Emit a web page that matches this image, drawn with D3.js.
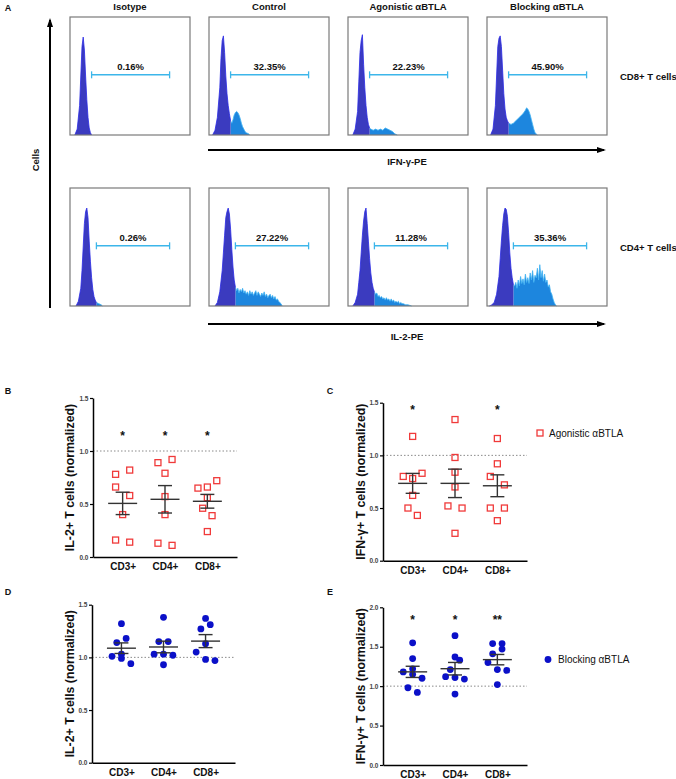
<!DOCTYPE html>
<html><head><meta charset="utf-8">
<script src="https://cdn.jsdelivr.net/npm/d3@7"></script>
<style>body{margin:0;background:#fff}svg{display:block;font-family:"Liberation Sans",Arial,sans-serif}</style>
</head><body>
<svg id="c" width="676" height="779"></svg>
<script>
// ---------------- DATA ----------------
const columns = ["Isotype", "Control", "Agonistic \u03b1BTLA", "Blocking \u03b1BTLA"];
const rowLabels = ["CD8+ T cells", "CD4+ T cells"];
const markerLabels = ["IFN-\u03b3-PE", "IL-2-PE"];
const gatePctCD8 = ["0.16%", "32.35%", "22.23%", "45.90%"];
const gatePctCD4 = ["0.26%", "27.22%", "11.28%", "35.36%"];
const gateRangeCD8 = [18, 83];
const gateRangeCD4 = [22, 83];

// histograms: [fluorescence (0-100), relative count (0-100)]
const histCD8Isotype = [[4,0],[6,5],[8,25],[9,50],[10,75],[11,83],[12,72],[13,50],[14,30],[15,15],[16,6],[17,2],[18,0]];
const histCD8Control = [[3,0],[5,4],[7,15],[9,40],[10,65],[11,80],[12,84],[13,70],[14,50],[15,35],[16,25],[17,18],[18,12],[19,10],[20,13],[21,17],[22,19],[23,20],[24,19],[25,17],[26,14],[27,10],[28,7],[29,5],[30,3],[31,2],[33,1],[34,0]];
const histCD8Agonistic = [[4,0],[6,5],[8,20],[9,45],[10,70],[11,80],[12,85],[13,60],[14,40],[15,25],[16,15],[17,9],[18,6],[19,5],[21,4],[23,5],[25,4],[27,5],[29,4],[31,6],[33,5],[35,4],[37,3],[39,1],[41,0]];
const histCD8Blocking = [[3,0],[5,5],[7,25],[8,50],[9,75],[10,82],[11,84],[12,75],[13,55],[14,35],[15,22],[16,15],[17,12],[18,10],[20,9],[22,10],[24,12],[26,14],[28,16],[30,18],[32,21],[33,23],[34,22],[35,20],[36,17],[37,13],[38,9],[39,5],[40,2],[42,0]];
const histCD4Isotype = [[5,0],[7,4],[9,15],[10,30],[11,50],[12,70],[13,80],[14,83],[15,75],[16,55],[17,38],[18,24],[19,14],[20,8],[21,5],[22,3],[24,2],[26,1],[27,0]];
const histCD4Control = [[5,0],[7,3],[9,12],[11,30],[12,45],[13,60],[14,75],[15,80],[16,83],[17,78],[18,65],[19,48],[20,33],[21,22],[22,16],[23,13],[24,15],[25,11],[26,14],[27,12],[28,15],[29,11],[30,13],[31,10],[32,12],[33,9],[34,13],[35,10],[36,12],[37,9],[38,11],[39,13],[40,9],[41,12],[42,10],[43,8],[44,11],[45,9],[46,12],[47,8],[48,10],[49,7],[50,9],[51,10],[52,7],[53,9],[54,6],[55,8],[56,5],[57,6],[58,4],[59,3],[60,2],[61,0]];
const histCD4Agonistic = [[4,0],[6,3],[8,10],[9,20],[10,30],[11,45],[12,60],[13,72],[14,80],[15,83],[16,70],[17,55],[18,40],[19,28],[20,20],[21,15],[22,12],[23,10],[24,11],[25,8],[26,9],[27,7],[28,8],[29,6],[30,7],[31,5],[32,7],[33,5],[34,6],[35,4],[36,6],[37,4],[38,5],[39,3],[40,4],[41,3],[42,4],[43,2],[44,3],[45,2],[46,2],[48,1],[50,1],[53,0]];
const histCD4Blocking = [[2,0],[4,1],[6,3],[8,10],[10,25],[11,40],[12,55],[13,68],[14,78],[15,83],[16,82],[17,76],[18,62],[19,45],[20,32],[21,24],[22,18],[23,17],[24,20],[25,15],[26,22],[27,17],[28,25],[29,19],[30,23],[31,18],[32,27],[33,20],[34,24],[35,19],[36,28],[37,22],[38,30],[39,20],[40,26],[41,24],[42,32],[43,22],[44,35],[45,24],[46,30],[47,21],[48,27],[49,20],[50,22],[51,16],[52,18],[53,12],[54,10],[55,6],[56,3],[57,1],[58,0]];

const categories = ["CD3+", "CD4+", "CD8+"];
// B: IL-2+ (agonistic)
const il2AgoCD3 = [0.82,0.78,0.66,0.58,0.40,0.16,0.14];
const il2AgoCD4 = [0.92,0.89,0.79,0.57,0.40,0.13,0.11];
const il2AgoCD8 = [0.72,0.66,0.65,0.56,0.46,0.39,0.24];
const il2AgoSlot3 = [1.5,-1.5,-1.5,1.5,0,-1.5,1.5];
const il2AgoSlot4 = [1.5,-1.5,0,0,0,-1.5,1.5];
const il2AgoSlot8 = [2,0,-2,0,-1,1,0];
// C: IFN-g+ (agonistic)
const ifnAgoCD3 = [1.18,0.83,0.80,0.78,0.62,0.50,0.43];
const ifnAgoCD4 = [1.34,0.98,0.84,0.70,0.52,0.50,0.26];
const ifnAgoCD8 = [1.16,0.92,0.80,0.72,0.50,0.50,0.38];
const ifnAgoSlot3 = [0,2,-2,0,0,-1,1];
const ifnAgoSlot4 = [0,0,0,0,-1.5,1.5,0];
const ifnAgoSlot8 = [0,0,-1.5,1.5,-1.5,1.5,0];
// D: IL-2+ (blocking)
const il2BlkCD3 = [1.32,1.18,1.14,1.03,1.01,0.99,0.94];
const il2BlkCD4 = [1.38,1.15,1.15,1.03,1.03,1.02,0.93];
const il2BlkCD8 = [1.37,1.31,1.27,1.13,1.05,0.98,0.97];
const il2BlkSlot3 = [0,1,-1,0,-2,0,2];
const il2BlkSlot4 = [0,1,-1,-2,0,2,0];
const il2BlkSlot8 = [0,1,-1,0,-2,0,2];
// E: IFN-g+ (blocking)
const ifnBlkCD3 = [1.55,1.35,1.22,1.18,1.15,1.10,0.98,0.92];
const ifnBlkCD4 = [1.64,1.37,1.33,1.21,1.12,1.11,1.09,0.90];
const ifnBlkCD8 = [1.54,1.54,1.47,1.41,1.30,1.21,1.20,1.02];
const ifnBlkSlot3 = [0,0,0,-2,0,2,-1,1];
const ifnBlkSlot4 = [0,0,1,-1,-2,0,2,0];
const ifnBlkSlot8 = [-1,1,1,-1,-2,0,2,0];

const sigB = ["*","*","*"];
const sigC = ["*","","*"];
const sigD = ["","",""];
const sigE = ["*","*","**"];
const ticks15 = [0, 0.5, 1.0, 1.5];
const ticks20 = [0, 0.5, 1.0, 1.5, 2.0];
const legendAgo = "Agonistic \u03b1BTLA";
const legendBlk = "Blocking \u03b1BTLA";

// ---------------- DRAW ----------------
const svg = d3.select("#c");
const DARK = "#3b3bbf", DARK_EDGE = "#2a2ae6", LIGHT = "#1d86de", LIGHT_EDGE = "#3fb2f2", GATE = "#3cb6ea";

function label(x, y, t, opt = {}) {
  return svg.append("text").attr("x", x).attr("y", y).text(t)
    .attr("text-anchor", opt.anchor || "middle")
    .attr("dominant-baseline", "central")
    .attr("font-size", opt.size || 9.5)
    .attr("font-weight", opt.weight || 700)
    .attr("fill", opt.fill || "#111")
    .attr("transform", opt.rotate ? `rotate(-90,${x},${y})` : null);
}

// Panel letters
label(8, 8, "A", {size: 9});
label(8, 391, "B", {size: 9});
label(330, 391, "C", {size: 9});
label(8, 592, "D", {size: 9});
label(330, 592, "E", {size: 9});

// Panel A
const colX = [70, 209, 348, 487], boxW = 120, rowY = [17, 188], boxH = 118;
const histRows = [
  [histCD8Isotype, histCD8Control, histCD8Agonistic, histCD8Blocking],
  [histCD4Isotype, histCD4Control, histCD4Agonistic, histCD4Blocking]
];
const pctRows = [gatePctCD8, gatePctCD4];
const gateRows = [gateRangeCD8, gateRangeCD4];

columns.forEach((c, i) => label(colX[i] + boxW / 2, 6, c));

function interpAt(pts, gx) {
  for (let i = 0; i < pts.length - 1; i++) {
    const a = pts[i], b = pts[i + 1];
    if (a[0] <= gx && b[0] >= gx) return a[1] + (b[1] - a[1]) * (gx - a[0]) / (b[0] - a[0] || 1);
  }
  return 0;
}

histRows.forEach((row, r) => {
  row.forEach((pts, c) => {
    const g = svg.append("g");
    const x = d3.scaleLinear().domain([0, 100]).range([colX[c], colX[c] + boxW]);
    const y = d3.scaleLinear().domain([0, 100]).range([rowY[r] + boxH, rowY[r]]);
    const gate = gateRows[r];
    const gv = interpAt(pts, gate[0]);
    const left = pts.filter(p => p[0] < gate[0]).concat([[gate[0], gv]]);
    const right = [[gate[0], gv]].concat(pts.filter(p => p[0] > gate[0]));
    const area = d3.area().x(d => x(d[0])).y0(y(0)).y1(d => y(d[1]));
    const line = d3.line().x(d => x(d[0])).y(d => y(d[1]));
    if (right.length > 1 && pts[pts.length - 1][0] > gate[0]) {
      g.append("path").attr("d", area(right)).attr("fill", LIGHT);
      g.append("path").attr("d", line(right)).attr("fill", "none").attr("stroke", LIGHT_EDGE).attr("stroke-width", 0.8);
    }
    g.append("path").attr("d", area(left)).attr("fill", DARK);
    g.append("path").attr("d", line(left)).attr("fill", "none").attr("stroke", DARK_EDGE).attr("stroke-width", 0.8);
    g.append("rect").attr("x", colX[c]).attr("y", rowY[r]).attr("width", boxW).attr("height", boxH)
      .attr("fill", "none").attr("stroke", "#7a7a7a").attr("stroke-width", 1.2);
    const gy = y(51);
    g.append("line").attr("x1", x(gate[0])).attr("x2", x(gate[1])).attr("y1", gy).attr("y2", gy)
      .attr("stroke", GATE).attr("stroke-width", 1.5);
    [gate[0], gate[1]].forEach(v => g.append("line").attr("x1", x(v)).attr("x2", x(v)).attr("y1", gy - 3.5).attr("y2", gy + 3.5)
      .attr("stroke", GATE).attr("stroke-width", 1.3));
    label((x(gate[0]) + x(gate[1])) / 2, gy - 8.5, pctRows[r][c]);
  });
  label(620, rowY[r] + 59, rowLabels[r], {anchor: "start"});
});

// axes arrows
function arrow(x1, y1, x2, y2) {
  svg.append("line").attr("x1", x1).attr("y1", y1).attr("x2", x2).attr("y2", y2).attr("stroke", "#000").attr("stroke-width", 2);
  const ang = Math.atan2(y2 - y1, x2 - x1), L = 7, W = 3;
  const p = [[x2 + Math.cos(ang) * 2, y2 + Math.sin(ang) * 2],
             [x2 - Math.cos(ang) * L + Math.sin(ang) * W, y2 - Math.sin(ang) * L - Math.cos(ang) * W],
             [x2 - Math.cos(ang) * L - Math.sin(ang) * W, y2 - Math.sin(ang) * L + Math.cos(ang) * W]];
  svg.append("path").attr("d", "M" + p.join("L") + "Z").attr("fill", "#000");
}
arrow(50, 308, 50, 20);
label(35, 160, "Cells", {rotate: true});
arrow(208, 150, 604, 150);
label(407, 161, markerLabels[0]);
arrow(208, 324, 604, 324);
label(407, 336, markerLabels[1]);

// Scatter panels
const panels = [
  {x0: 93, x1: 237, yTop: 398, yBot: 557, max: 1.5, ticks: ticks15, title: "IL-2+ T cells (normalized)", tx: 70,
   data: [il2AgoCD3, il2AgoCD4, il2AgoCD8], slots: [il2AgoSlot3, il2AgoSlot4, il2AgoSlot8], sig: sigB, sigV: 1.17, kind: "sq"},
  {x0: 383, x1: 527, yTop: 402.7, yBot: 560.7, max: 1.5, ticks: ticks15, title: "IFN-\u03b3+ T cells (normalized)", tx: 361,
   data: [ifnAgoCD3, ifnAgoCD4, ifnAgoCD8], slots: [ifnAgoSlot3, ifnAgoSlot4, ifnAgoSlot8], sig: sigC, sigV: 1.46, kind: "sq"},
  {x0: 92, x1: 235, yTop: 604.7, yBot: 762.7, max: 1.5, ticks: ticks15, title: "IL-2+ T cells (normalized)", tx: 70,
   data: [il2BlkCD3, il2BlkCD4, il2BlkCD8], slots: [il2BlkSlot3, il2BlkSlot4, il2BlkSlot8], sig: sigD, sigV: 1.4, kind: "dot"},
  {x0: 383, x1: 527, yTop: 607.3, yBot: 765, max: 2.0, ticks: ticks20, title: "IFN-\u03b3+ T cells (normalized)", tx: 361,
   data: [ifnBlkCD3, ifnBlkCD4, ifnBlkCD8], slots: [ifnBlkSlot3, ifnBlkSlot4, ifnBlkSlot8], sig: sigE, sigV: 1.88, kind: "dot"}
];
const jit = d3.scaleLinear().domain([-2, 2]).range([-9.4, 9.4]);

panels.forEach(p => {
  const g = svg.append("g");
  const y = d3.scaleLinear().domain([0, p.max]).range([p.yBot, p.yTop]);
  const x = d3.scalePoint().domain(categories).range([p.x0, p.x1]).padding(0.7);
  g.append("line").attr("x1", p.x0).attr("x2", p.x1).attr("y1", y(1)).attr("y2", y(1))
    .attr("stroke", "#8a8a8a").attr("stroke-width", 1).attr("stroke-dasharray", "1.5,2");
  const ya = g.append("g").attr("transform", `translate(${p.x0},0)`)
    .call(d3.axisLeft(y).tickValues(p.ticks).tickFormat(d3.format(".1f")).tickSize(3).tickSizeOuter(0).tickPadding(1.5));
  ya.select(".domain").attr("stroke-width", 1.5);
  ya.selectAll(".tick line").attr("stroke-width", 1.2);
  ya.selectAll("text").attr("font-size", 6.5).attr("font-weight", 700).attr("fill", "#444")
    .attr("font-family", '"Liberation Sans",Arial,sans-serif');
  const xa = g.append("g").attr("transform", `translate(0,${p.yBot})`)
    .call(d3.axisBottom(x).tickSize(0).tickSizeOuter(0).tickPadding(6));
  xa.select(".domain").attr("stroke-width", 1.5);
  xa.selectAll("text").attr("font-size", 10).attr("font-weight", 700).attr("fill", "#111")
    .attr("font-family", '"Liberation Sans",Arial,sans-serif');
  label(p.tx, (p.yTop + p.yBot) / 2, p.title, {size: 12.3, rotate: true});
  categories.forEach((c, ci) => {
    const vals = p.data[ci], sl = p.slots[ci];
    vals.forEach((v, k) => {
      const cx = x(c) + jit(sl[k]), cy = y(v);
      if (p.kind === "sq") {
        g.append("rect").attr("x", cx - 3).attr("y", cy - 3).attr("width", 6).attr("height", 6)
          .attr("fill", "none").attr("stroke", "#f03a3a").attr("stroke-width", 1.3);
      } else {
        g.append("circle").attr("cx", cx).attr("cy", cy).attr("r", 3.4).attr("fill", "#0b10c8");
      }
    });
    const m = d3.mean(vals), sem = d3.deviation(vals) / Math.sqrt(vals.length);
    const ec = "#333";
    g.append("line").attr("x1", x(c) - 14.5).attr("x2", x(c) + 14.5).attr("y1", y(m)).attr("y2", y(m)).attr("stroke", ec).attr("stroke-width", 1.4);
    g.append("line").attr("x1", x(c)).attr("x2", x(c)).attr("y1", y(m + sem)).attr("y2", y(m - sem)).attr("stroke", ec).attr("stroke-width", 1.4);
    [m + sem, m - sem].forEach(v => g.append("line").attr("x1", x(c) - 7).attr("x2", x(c) + 7).attr("y1", y(v)).attr("y2", y(v)).attr("stroke", ec).attr("stroke-width", 1.4));
    if (p.sig[ci]) {
      g.append("text").attr("x", x(c)).attr("y", y(p.sigV) + 7).attr("text-anchor", "middle")
        .attr("font-size", 12).attr("font-weight", 700).attr("fill", "#111").text(p.sig[ci]);
    }
  });
});

// legends
svg.append("rect").attr("x", 537).attr("y", 430).attr("width", 6).attr("height", 6)
  .attr("fill", "none").attr("stroke", "#f03a3a").attr("stroke-width", 1.3);
label(549, 433, legendAgo, {anchor: "start", size: 10, weight: 400});
svg.append("circle").attr("cx", 548).attr("cy", 659.5).attr("r", 3.4).attr("fill", "#0b10c8");
label(558, 659.5, legendBlk, {anchor: "start", size: 10, weight: 400});
</script>
</body></html>
